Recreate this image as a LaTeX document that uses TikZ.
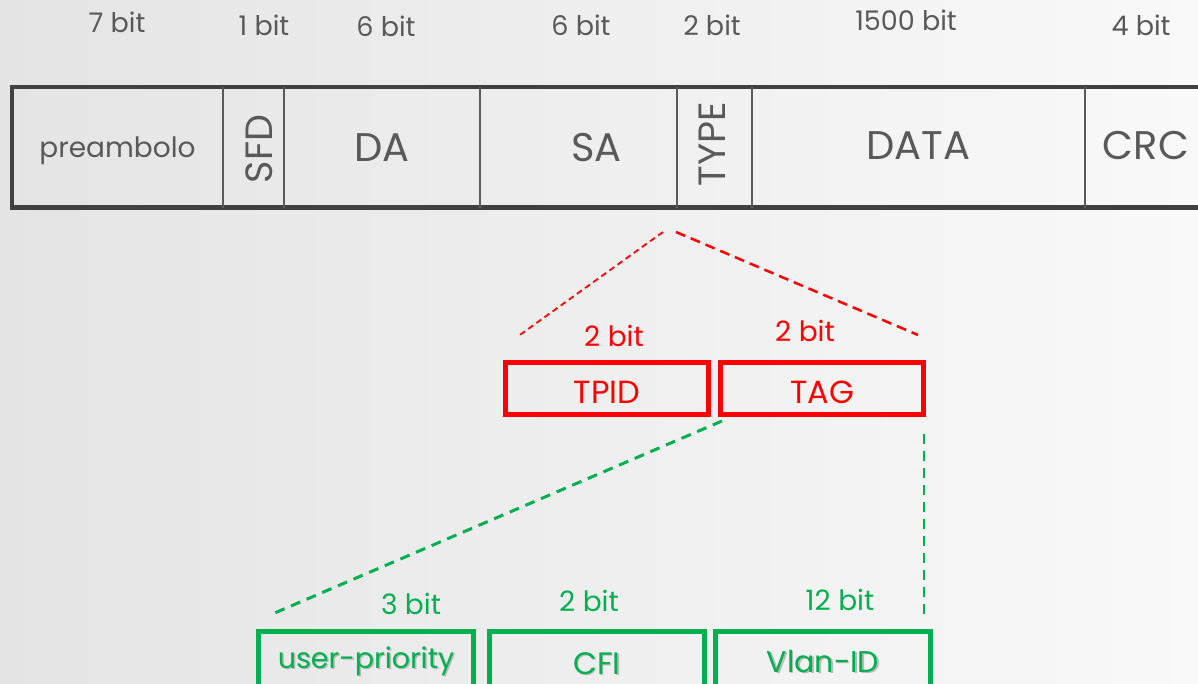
\documentclass[tikz,border=0pt]{standalone}
\usepackage{fontspec}
\setmainfont{Poppins}
\usetikzlibrary{calc}
\definecolor{framec}{HTML}{404040}
\definecolor{divc}{HTML}{5A5A5A}
\definecolor{txt}{HTML}{595959}
\definecolor{vred}{HTML}{FF0000}
\definecolor{vgreen}{HTML}{00B050}
\definecolor{bgl}{HTML}{E4E4E4}
\definecolor{bgr}{HTML}{F9F9F9}
\newcommand{\fs}[1]{\fontsize{#1}{#1}\selectfont}
\newcommand{\shadowed}[1]{\makebox[0pt][l]{\hspace*{1.5pt}\raisebox{-1.5pt}{\color{gray!55}#1}}#1}
\tikzset{
  field/.style={rectangle, minimum height=120.5pt, inner sep=0pt, text=txt, font=\fs{40}, text depth=0pt, text height=29.5pt},
  bitlbl/.style={inner sep=0pt, text=txt, font=\fs{27}},
  framestyle/.style={draw=framec, line width=4.5pt},
  divstyle/.style={draw=divc, line width=2pt},
  redbox/.style={rectangle, draw=vred, line width=5pt, minimum width=203pt, minimum height=51.5pt, inner sep=0pt, text=vred, font=\fs{32}, text depth=0pt, text height=31pt},
  redlbl/.style={inner sep=0pt, text=vred, font=\fs{28}},
  greenbox/.style={rectangle, draw=vgreen, line width=5pt, minimum width=215pt, minimum height=60pt, inner sep=0pt, text=vgreen, font=\fs{30}, text depth=0pt},
  greenlbl/.style={inner sep=0pt, text=vgreen, font=\fs{28}},
  reddashthin/.style={draw=vred, line width=1.8pt, dash pattern=on 6pt off 4pt},
  reddash/.style={draw=vred, line width=2.5pt, dash pattern=on 10pt off 6pt},
  greendash/.style={draw=vgreen, line width=3pt, dash pattern=on 10pt off 7pt},
}
\begin{document}
\begin{tikzpicture}[x=1pt,y=-1pt]
\useasboundingbox (0,0) rectangle (1198,684);
\shade[left color=bgl, right color=bgr] (0,0) rectangle (1198,684);

% fields
\node[field, minimum width=211pt, font=\fs{28}, text height=21.5pt] (pre) at (117.5,147.25) {preambolo};
\node[field, minimum width=61pt] (sfd) at (253.5,147.25) {};
\node[text=txt, font=\fs{38}, inner sep=0pt, rotate=90] (sfdt) at (259,149) {SFD};
\node[field, minimum width=196pt, text height=29pt] (da) at (382,147.25) {DA};
\node[field, minimum width=197pt, text height=29pt] (sa) at (578.5,147.25) {\hspace*{36pt}SA};
\node[field, minimum width=75pt] (type) at (714.5,147.25) {};
\node[text=txt, font=\fs{38}, inner sep=0pt, rotate=90] (typet) at (712.5,144) {TYPE};
\node[field, minimum width=333pt, text height=25pt] (data) at (918.5,147.25) {DATA};
\node[field, minimum width=122pt, text height=25pt] (crc) at (1146,147.25) {CRC};

% frame and dividers
\draw[framestyle] ($(crc.north east)+(20,0)$) -- (pre.north west) -- (pre.south west) -- ($(crc.south east)+(20,0)$);
\draw[divstyle] (pre.north east) -- (pre.south east);
\draw[divstyle] (da.north west) -- (da.south west);
\draw[divstyle] (da.north east) -- (da.south east);
\draw[divstyle] (sa.north east) -- (sa.south east);
\draw[divstyle] (type.north east) -- (type.south east);
\draw[divstyle] (data.north east) -- (data.south east);

% bit sizes
\node[bitlbl] (b1) at (117,22) {7 bit};
\node[bitlbl] (b2) at (264,25) {1 bit};
\node[bitlbl] (b3) at (386,26) {6 bit};
\node[bitlbl] (b4) at (581,25) {6 bit};
\node[bitlbl] (b5) at (712,25) {2 bit};
\node[bitlbl] (b6) at (906,20) {1500 bit};
\node[bitlbl] (b7) at (1141,25) {4 bit};

% red level
\node[redbox] (tpid) at (607,388.25) {TPID};
\node[redbox] (tag) at (822,388.25) {TAG};
\node[redlbl] (tpidb) at (614,336) {2 bit};
\node[redlbl] (tagb) at (805,331) {2 bit};
\coordinate (rtop1) at (663,232);
\coordinate (rtop2) at (676,232);
\coordinate (rleft) at (517,337);
\coordinate (rright) at (918,335);
\draw[reddashthin] (rtop1) -- (rleft);
\draw[reddash] (rtop2) -- (rright);

% green level
\node[greenbox, font=\fs{28.5}, text height=14pt] (up) at (366,661) {\shadowed{user-priority}};
\node[greenbox, font=\fs{31}, text height=26pt] (cfi) at (597,661) {\shadowed{CFI}};
\node[greenbox, text height=22pt] (vlan) at (823,661) {\shadowed{Vlan-ID}};
\node[greenlbl] (upb) at (411,604) {3 bit};
\node[greenlbl] (cfib) at (589,601) {2 bit};
\node[greenlbl] (vlanb) at (840,600) {12 bit};
\coordinate (gtop1) at (722,421);
\coordinate (gleft) at (270,615);
\coordinate (gtop2) at (924,434);
\coordinate (gright) at (924,615);
\draw[greendash] (gtop1) -- (gleft);
\draw[greendash, line width=2.5pt] (gtop2) -- (gright);
\end{tikzpicture}
\end{document}
